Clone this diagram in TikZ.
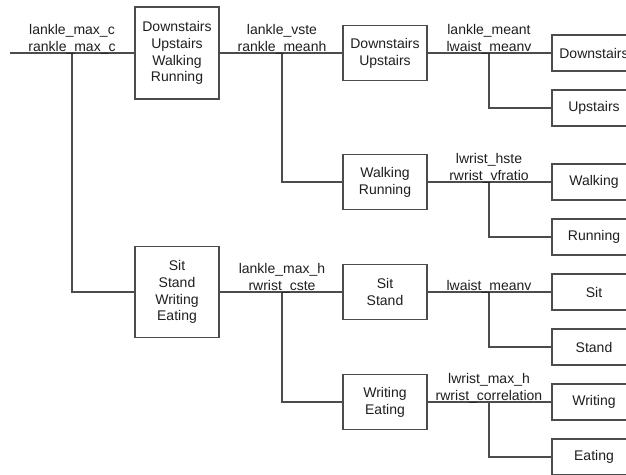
\documentclass[tikz,border=0pt]{standalone}
\usepackage{fontspec}
\setmainfont{Liberation Sans}
\begin{document}
\begin{tikzpicture}[x=1pt,y=-1pt,
  txt/.style={font=\fontsize{14}{16.8}\selectfont, text=black!88},
  box/.style={txt, draw=black!70, line width=1.2pt, minimum width=84pt, align=center, inner sep=0pt},
  inbox/.style={box, minimum height=55pt},
  leaf/.style={box, minimum height=36pt},
  lab/.style={txt, anchor=base, inner sep=0pt},
  conn/.style={draw=black!70, line width=1.2pt}]
\clip (0,0) rectangle (626,474);
\fill[white] (0,0) rectangle (626,474);

% level 1
\coordinate (start) at (10,53);
\node[box, minimum height=92pt] (A) at (177,53) {Downstairs\\Upstairs\\Walking\\Running};
\node[box, minimum height=91pt] (B) at (177,292) {Sit\\Stand\\Writing\\Eating};
% level 2
\node[inbox] (C) at (385,53) {Downstairs\\Upstairs};
\node[inbox] (D) at (385,182) {Walking\\Running};
\node[inbox] (E) at (385,292) {Sit\\Stand};
\node[inbox] (F) at (385,402) {Writing\\Eating};
% leaves
\node[leaf] (L1) at (594,53) {Downstairs};
\node[leaf] (L2) at (594,108) {Upstairs};
\node[leaf] (L3) at (594,182) {Walking};
\node[leaf] (L4) at (594,237) {Running};
\node[leaf] (L5) at (594,292) {Sit};
\node[leaf] (L6) at (594,347) {Stand};
\node[leaf] (L7) at (594,402) {Writing};
\node[leaf] (L8) at (594,457) {Eating};

% branch points
\coordinate (b1) at (72,53);
\coordinate (b2) at (282,53);
\coordinate (b3) at (282,292);
\coordinate (b4) at (489,53);
\coordinate (b5) at (489,182);
\coordinate (b6) at (489,292);
\coordinate (b7) at (489,402);

% connectors
\draw[conn] (start) -- (A.west);
\draw[conn] (b1) |- (B.west);
\draw[conn] (A.east) -- (C.west);
\draw[conn] (b2) |- (D.west);
\draw[conn] (B.east) -- (E.west);
\draw[conn] (b3) |- (F.west);
\draw[conn] (C.east) -- (L1.west);
\draw[conn] (b4) |- (L2.west);
\draw[conn] (D.east) -- (L3.west);
\draw[conn] (b5) |- (L4.west);
\draw[conn] (E.east) -- (L5.west);
\draw[conn] (b6) |- (L6.west);
\draw[conn] (F.east) -- (L7.west);
\draw[conn] (b7) |- (L8.west);

% labels
\node[lab] (t1a) at (72,34) {lankle\_max\_c};
\node[lab] (t1b) at (72,51) {rankle\_max\_c};
\node[lab] (t2a) at (282,34) {lankle\_vste};
\node[lab] (t2b) at (282,51) {rankle\_meanh};
\node[lab] (t3a) at (282,273) {lankle\_max\_h};
\node[lab] (t3b) at (282,290) {rwrist\_cste};
\node[lab] (t4a) at (489,34) {lankle\_meant};
\node[lab] (t4b) at (489,51) {lwaist\_meanv};
\node[lab] (t5a) at (489,163) {lwrist\_hste};
\node[lab] (t5b) at (489,180) {rwrist\_vfratio};
\node[lab] (t6b) at (489,290) {lwaist\_meanv};
\node[lab] (t7a) at (489,383) {lwrist\_max\_h};
\node[lab] (t7b) at (489,400) {rwrist\_correlation};
\end{tikzpicture}
\end{document}
